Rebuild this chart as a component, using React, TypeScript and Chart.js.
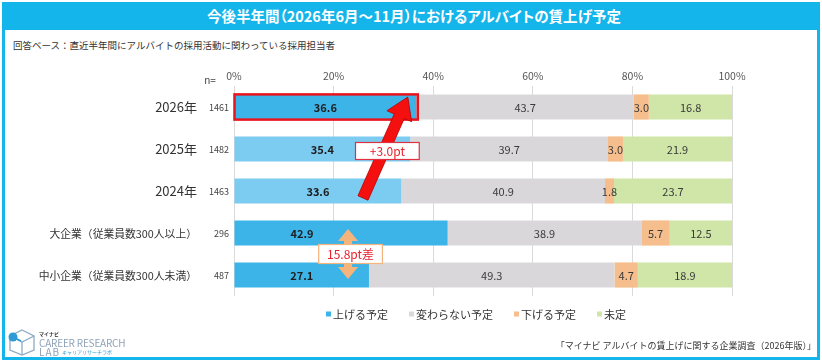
import React, { useEffect, useRef } from 'react';
import { Chart, registerables } from 'chart.js';
Chart.register(...registerables);

const FONT = "'Noto Sans CJK JP', 'Noto Sans', sans-serif";

const categories = ['2026年', '2025年', '2024年', '大企業（従業員数300人以上）', '中小企業（従業員数300人未満）'];
const sampleSizes = ['1461', '1482', '1463', '296', '487'];
const seriesNames = ['上げる予定', '変わらない予定', '下げる予定', '未定'];
const raise = [36.6, 35.4, 33.6, 42.9, 27.1];
const same = [43.7, 39.7, 40.9, 38.9, 49.3];
const lower = [3.0, 3.0, 1.8, 5.7, 4.7];
const undecided = [16.8, 21.9, 23.7, 12.5, 18.9];
const xTicks = [0, 20, 40, 60, 80, 100];

const raiseColors = ['#3CB4E8', '#7CCBF0', '#7CCBF0', '#3CB4E8', '#3CB4E8'];
const seriesColors = ['#3CB4E8', '#DAD7DB', '#F6BE8D', '#CFE6A8'];

const yearDiffText = '+3.0pt';
const sizeDiffText = '15.8pt差';

function drawArrow(ctx: CanvasRenderingContext2D, tx: number, ty: number, hx: number, hy: number, w: number, hw: number, hl: number) {
  const dx = hx - tx, dy = hy - ty;
  const len = Math.hypot(dx, dy);
  const ux = dx / len, uy = dy / len;
  const nx = -uy, ny = ux;
  const bx = hx - ux * hl, by = hy - uy * hl;
  ctx.beginPath();
  ctx.moveTo(tx + nx * w / 2, ty + ny * w / 2);
  ctx.lineTo(bx + nx * w / 2, by + ny * w / 2);
  ctx.lineTo(bx + nx * hw / 2, by + ny * hw / 2);
  ctx.lineTo(hx, hy);
  ctx.lineTo(bx - nx * hw / 2, by - ny * hw / 2);
  ctx.lineTo(bx - nx * w / 2, by - ny * w / 2);
  ctx.lineTo(tx - nx * w / 2, ty - ny * w / 2);
  ctx.closePath();
}

function drawDoubleArrow(ctx: CanvasRenderingContext2D, x: number, y1: number, y2: number, w: number, hw: number, hl: number) {
  ctx.beginPath();
  ctx.moveTo(x, y1);
  ctx.lineTo(x + hw / 2, y1 + hl);
  ctx.lineTo(x + w / 2, y1 + hl);
  ctx.lineTo(x + w / 2, y2 - hl);
  ctx.lineTo(x + hw / 2, y2 - hl);
  ctx.lineTo(x, y2);
  ctx.lineTo(x - hw / 2, y2 - hl);
  ctx.lineTo(x - w / 2, y2 - hl);
  ctx.lineTo(x - w / 2, y1 + hl);
  ctx.lineTo(x - hw / 2, y1 + hl);
  ctx.closePath();
}

function labelBox(ctx: CanvasRenderingContext2D, x1: number, x2: number, cy: number, h: number, border: string, text: string) {
  ctx.fillStyle = '#FFFFFF';
  ctx.fillRect(x1, cy - h / 2, x2 - x1, h);
  ctx.strokeStyle = border;
  ctx.lineWidth = 1.2;
  ctx.strokeRect(x1 + 0.5, cy - h / 2 + 0.5, x2 - x1 - 1, h - 1);
  ctx.fillStyle = '#E8202A';
  ctx.font = `12px ${FONT}`;
  ctx.textAlign = 'center';
  ctx.textBaseline = 'middle';
  ctx.fillText(text, (x1 + x2) / 2, cy + 0.5);
}

const customPlugin = {
  id: 'custom',
  afterDatasetsDraw(chart: any) {
    const ctx: CanvasRenderingContext2D = chart.ctx;
    const xs = chart.scales.x;
    const ys = chart.scales.y;
    const orangeX = xs.getPixelForValue(22.9);
    ctx.save();
    // value labels
    chart.data.datasets.forEach((ds: any, di: number) => {
      const meta = chart.getDatasetMeta(di);
      meta.data.forEach((el: any, i: number) => {
        const v = ds.data[i];
        ctx.font = `${di === 0 ? 'bold ' : ''}11px ${FONT}`;
        ctx.fillStyle = di === 0 ? '#1E1E1E' : '#3A3A3A';
        ctx.textAlign = 'center';
        ctx.textBaseline = 'middle';
        let cx = (el.x + el.base) / 2;
        if (di === 0 && i === 3) cx = Math.min(cx, orangeX - 46);
        ctx.fillText(v.toFixed(1), cx, el.y + 0.5);
      });
    });
    // red frame on 2026 raise bar
    const b0 = chart.getDatasetMeta(0).data[0];
    ctx.strokeStyle = '#E8141E';
    ctx.lineWidth = 2.5;
    ctx.strokeRect(b0.base, b0.y - b0.height / 2, b0.x - b0.base + 1.5, b0.height);

    // red arrow
    ctx.fillStyle = '#F51010';
    ctx.strokeStyle = '#B80000';
    ctx.lineWidth = 0.8;
    drawArrow(ctx, xs.getPixelForValue(25.9), ys.getPixelForValue(2) + 7, xs.getPixelForValue(34.9), ys.getPixelForValue(0) - 10, 11, 27, 21);
    ctx.fill();
    ctx.stroke();
    labelBox(ctx, xs.getPixelForValue(24.3), xs.getPixelForValue(37.3), ys.getPixelForValue(1) + 2, 18, '#E03040', yearDiffText);

    // orange double arrow
    ctx.fillStyle = '#F4B47C';
    drawDoubleArrow(ctx, orangeX, ys.getPixelForValue(3) - 4, ys.getPixelForValue(4) + 4, 8, 20, 12);
    ctx.fill();
    labelBox(ctx, xs.getPixelForValue(16.9), xs.getPixelForValue(29.9), (ys.getPixelForValue(3) + ys.getPixelForValue(4)) / 2, 20, '#F4B47C', sizeDiffText);

    // category labels and n
    categories.forEach((c, i) => {
      const y = ys.getPixelForValue(i);
      ctx.fillStyle = '#333333';
      ctx.textAlign = 'right';
      ctx.textBaseline = 'middle';
      ctx.font = `${i < 3 ? 13 : 10.8}px ${FONT}`;
      ctx.fillText(c, chart.chartArea.left - 37, y + 0.5);
      ctx.font = `9px ${FONT}`;
      ctx.fillStyle = '#444444';
      ctx.fillText(sampleSizes[i], chart.chartArea.left - 5, y + 0.5);
    });
    ctx.font = `10px ${FONT}`;
    ctx.fillStyle = '#444444';
    ctx.textAlign = 'center';
    ctx.fillText('n=', chart.chartArea.left - 24, chart.chartArea.top - 6);

    // legend
    ctx.font = `11px ${FONT}`;
    const box = 5, gapBox = 2, gapItem = 21;
    const widths = seriesNames.map((s) => ctx.measureText(s).width);
    const total = widths.reduce((a, b) => a + b, 0) + seriesNames.length * (box + gapBox) + (seriesNames.length - 1) * gapItem;
    let lx = 476 - total / 2;
    const ly = chart.chartArea.bottom + 18;
    seriesNames.forEach((s, i) => {
      ctx.fillStyle = seriesColors[i];
      ctx.fillRect(lx, ly - box / 2, box, box);
      lx += box + gapBox;
      ctx.fillStyle = '#333333';
      ctx.textAlign = 'left';
      ctx.textBaseline = 'middle';
      ctx.fillText(s, lx, ly + 0.5);
      lx += widths[i] + gapItem;
    });
    ctx.restore();
  },
};

export default function App() {
  const ref = useRef<HTMLCanvasElement>(null);
  useEffect(() => {
    const chart = new Chart(ref.current!, {
      type: 'bar',
      data: {
        labels: categories,
        datasets: [
          { label: seriesNames[0], data: raise, backgroundColor: raiseColors },
          { label: seriesNames[1], data: same, backgroundColor: seriesColors[1] },
          { label: seriesNames[2], data: lower, backgroundColor: seriesColors[2] },
          { label: seriesNames[3], data: undecided, backgroundColor: seriesColors[3] },
        ],
      },
      options: {
        indexAxis: 'y',
        responsive: false,
        animation: false,
        layout: { padding: { left: 234, right: 90, top: 66, bottom: 66 } },
        datasets: { bar: { categoryPercentage: 0.6, barPercentage: 1, borderWidth: 0 } },
        scales: {
          x: {
            type: 'linear',
            position: 'top',
            stacked: true,
            min: 0,
            max: 100,
            afterFit: (s: any) => { s.height = 20; },
            afterBuildTicks: (s: any) => { s.ticks = xTicks.map((v) => ({ value: v })); },
            ticks: {
              callback: (v: any) => v + '%',
              font: { size: 10.5, family: FONT },
              color: '#555555',
              padding: 4,
            },
            grid: { color: '#DADADA', drawTicks: false, lineWidth: 1 },
            border: { display: false },
          },
          y: { type: 'category', stacked: true, display: false },
        },
        plugins: { legend: { display: false }, tooltip: { enabled: false } },
      } as any,
      plugins: [customPlugin],
    });
    return () => chart.destroy();
  }, []);

  return (
    <div style={{ position: 'fixed', left: 0, top: 0, width: 822, height: 362, background: '#FFFFFF', overflow: 'hidden', fontFamily: FONT }}>
      <div style={{ position: 'absolute', left: 2, top: 2, width: 818 - 6, height: 358 - 6, border: '3px solid #13B5EA', boxSizing: 'content-box' }} />
      <div style={{ position: 'absolute', left: 2, top: 2, width: 818, height: 28, background: '#13B5EA', color: '#FFFFFF', fontWeight: 'bold', fontSize: 14.5, lineHeight: '28px', textAlign: 'center', paddingLeft: 6, boxSizing: 'border-box', fontFeatureSettings: '"palt"' }}>
        今後半年間（2026年6月～11月）におけるアルバイトの賃上げ予定
      </div>
      <div style={{ position: 'absolute', left: 13, top: 38, fontSize: 9.5, lineHeight: '14px', color: '#333333', whiteSpace: 'nowrap' }}>
        回答ベース：直近半年間にアルバイトの採用活動に関わっている採用担当者
      </div>
      <canvas ref={ref} width={822} height={362} style={{ position: 'absolute', left: 0, top: 0, width: 822, height: 362 }} />
      <svg style={{ position: 'absolute', left: 6, top: 328 }} width={32} height={28}>
        <polygon points="16,2 28,8 28,22 16,27 4,22 4,8" fill="none" stroke="#8FA9C4" strokeWidth={1.3} />
        <polyline points="4,8 16,14 28,8" fill="none" stroke="#8FA9C4" strokeWidth={1.3} />
        <line x1={16} y1={14} x2={16} y2={27} stroke="#8FA9C4" strokeWidth={1.3} />
        <circle cx={7} cy={9} r={4.5} fill="#2E9BD6" />
        <line x1={7} y1={9} x2={15} y2={13} stroke="#2E9BD6" strokeWidth={1.5} />
      </svg>
      <div style={{ position: 'absolute', left: 39, top: 331, fontSize: 5, fontWeight: 'bold', color: '#333', lineHeight: '6px' }}>マイナビ</div>
      <div style={{ position: 'absolute', left: 39, top: 337, fontSize: 10, color: '#8FA3B8', lineHeight: '12px', whiteSpace: 'nowrap', letterSpacing: -0.2 }}>CAREER RESEARCH</div>
      <div style={{ position: 'absolute', left: 39, top: 346, fontSize: 10, color: '#8FA3B8', lineHeight: '12px', letterSpacing: 1 }}>LAB</div>
      <div style={{ position: 'absolute', left: 62, top: 348, fontSize: 5, color: '#2E9BD6', lineHeight: '7px', whiteSpace: 'nowrap' }}>キャリアリサーチラボ</div>
      <div style={{ position: 'absolute', right: 6, top: 339, fontSize: 9, color: '#333333', lineHeight: '14px', whiteSpace: 'nowrap' }}>
        「マイナビ アルバイトの賃上げに関する企業調査（2026年版）」
      </div>
    </div>
  );
}
